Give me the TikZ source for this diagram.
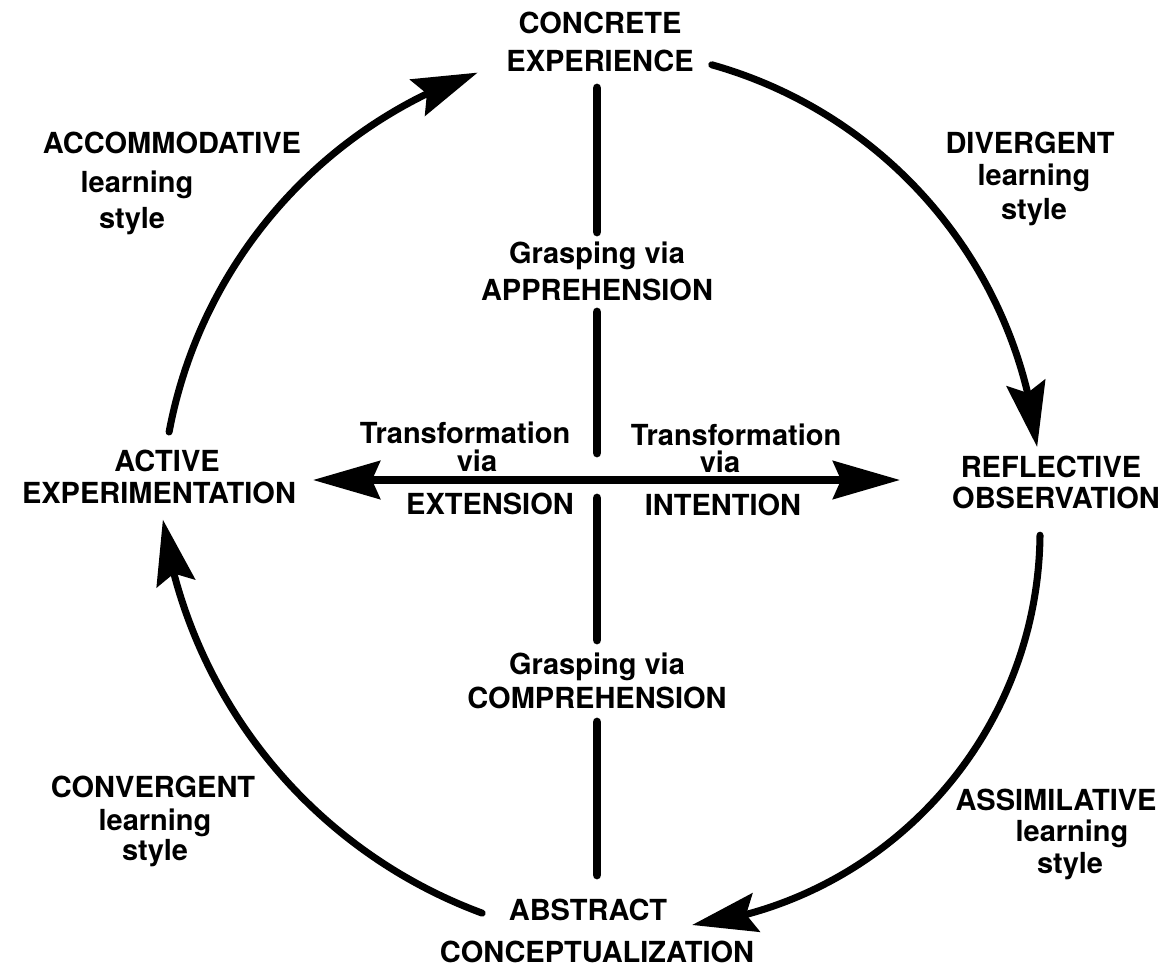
\documentclass[tikz,border=0pt]{standalone}
\usepackage{fontspec}
\setmainfont{TeX Gyre Heros}
\usetikzlibrary{arrows.meta,bending}
\begin{document}
\begin{tikzpicture}[x=0.02cm,y=0.02cm,
  lbl/.style={font=\fontsize{16.5}{20}\selectfont\bfseries, anchor=base, inner sep=0pt},
  cyc/.style={line width=4pt, line cap=round, -{Stealth[length=1.3cm,width=0.78cm,inset=0.2cm]}},
  axisline/.style={line width=5pt, line cap=round},
  trans/.style={line width=4pt, {Stealth[length=1.34cm,width=0.76cm,inset=0.16cm]}-{Stealth[length=1.34cm,width=0.76cm,inset=0.16cm]}}]
\useasboundingbox (0,0) rectangle (1175,-969);

% main poles
\node[lbl] (ce1) at (600,-34) {CONCRETE};
\node[lbl] (ce2) at (600,-72) {EXPERIENCE};
\node[lbl] (ro1) at (1051,-477) {REFLECTIVE};
\node[lbl] (ro2) at (1056,-508) {OBSERVATION};
\node[lbl] (ac1) at (588,-920) {ABSTRACT};
\node[lbl] (ac2) at (597,-962) {CONCEPTUALIZATION};
\node[lbl] (ae1) at (167,-471) {ACTIVE};
\node[lbl] (ae2) at (159,-503) {EXPERIMENTATION};

% axis labels
\node[lbl] (ga1) at (597,-264) {Grasping via};
\node[lbl] (ga2) at (597,-300) {APPREHENSION};
\node[lbl] (gc1) at (597,-674) {Grasping via};
\node[lbl] (gc2) at (597,-708) {COMPREHENSION};
\node[lbl] (tl1) at (465,-443) {Transformation};
\node[lbl] (tl2) at (477,-471) {via};
\node[lbl] (tl3) at (490,-514) {EXTENSION};
\node[lbl] (tr1) at (736,-445) {Transformation};
\node[lbl] (tr2) at (720,-472) {via};
\node[lbl] (tr3) at (723,-515) {INTENTION};

% learning styles
\node[lbl] (acc1) at (172,-154) {ACCOMMODATIVE};
\node[lbl] (acc2) at (137,-193) {learning};
\node[lbl] (acc3) at (132,-229) {style};
\node[lbl] (div1) at (1030,-154) {DIVERGENT};
\node[lbl] (div2) at (1034,-186) {learning};
\node[lbl] (div3) at (1034,-220) {style};
\node[lbl] (con1) at (153,-797) {CONVERGENT};
\node[lbl] (con2) at (155,-830) {learning};
\node[lbl] (con3) at (155,-860) {style};
\node[lbl] (ass1) at (1056,-810) {ASSIMILATIVE};
\node[lbl] (ass2) at (1072,-841) {learning};
\node[lbl] (ass3) at (1070,-873) {style};

% vertical axis segments
\coordinate (v1a) at (597,-88);
\coordinate (v1b) at (597,-232);
\coordinate (v2a) at (597,-312);
\coordinate (v2b) at (597,-453);
\coordinate (v3a) at (597,-498);
\coordinate (v3b) at (597,-640);
\coordinate (v4a) at (597,-722);
\coordinate (v4b) at (597,-875);
\draw[axisline] (v1a) -- (v1b);
\draw[axisline] (v2a) -- (v2b);
\draw[axisline] (v3a) -- (v3b);
\draw[axisline] (v4a) -- (v4b);

% horizontal double arrow
\coordinate (hl) at (313,-480);
\coordinate (hr) at (900,-480);
\draw[trans] (hl) -- (hr);

% cycle arcs
\coordinate (a1s) at (711.8,-64.8);
\coordinate (a2s) at (1040,-535.2);
\coordinate (a3s) at (482.1,-913.1);
\coordinate (a4s) at (169.1,-432);
\draw[cyc] (a1s) arc[start angle=74.3, end angle=6.5, radius=450];
\draw[cyc] (a2s) arc[start angle=-0.6, end angle=-82.9, radius=397];
\draw[cyc] (a3s) arc[start angle=249.7, end angle=188.4, radius=497];
\draw[cyc] (a4s) arc[start angle=169.4, end angle=109.3, radius=473];
\end{tikzpicture}
\end{document}
